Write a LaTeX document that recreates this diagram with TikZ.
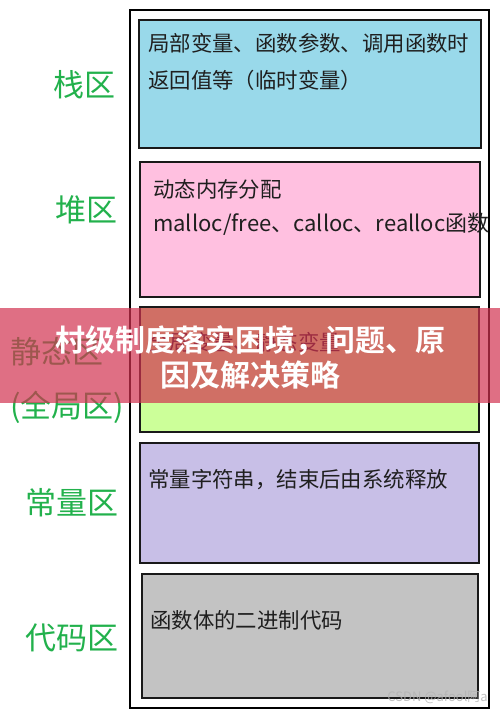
\documentclass[tikz,border=0pt]{standalone}
\usepackage{fontspec}
\setmainfont{Noto Sans CJK SC}
\newfontfamily\cjkbold{Noto Sans CJK SC Bold}
\usepackage{tikz}
\usetikzlibrary{positioning}

\definecolor{stackblue}{RGB}{153,217,234}
\definecolor{heappink}{RGB}{255,192,224}
\definecolor{staticgreen}{RGB}{204,255,153}
\definecolor{constpurple}{RGB}{200,191,231}
\definecolor{codegray}{RGB}{195,195,195}
\definecolor{labelgreen}{RGB}{34,177,76}
\definecolor{bannerred}{RGB}{210,50,80}

\begin{document}
\begin{tikzpicture}[
        x=1pt, y=-1pt,
        region/.style={draw=black!90, line width=2.2pt, anchor=north west, inner sep=0pt},
        txt/.style={anchor=west, inner sep=0pt, text=black!88, font=\fontsize{21.4}{25}\selectfont},
        lbl/.style={inner sep=0pt, text=labelgreen, font=\fontsize{31}{36}\selectfont}
      ]
      \useasboundingbox (0,0) rectangle (500,712);
      \node[draw=black, line width=1.6pt, anchor=north west, inner sep=0pt,
            minimum width=359, minimum height=698] (mem) at (129,9) {};
      \node[region, fill=stackblue, minimum width=342, minimum height=128] (stack) at (138,19) {};
      \node[region, fill=heappink, minimum width=340, minimum height=135] (heap) at (139,161) {};
      \node[region, fill=staticgreen, minimum width=339, minimum height=125] (static) at (139,306) {};
      \node[region, fill=constpurple, minimum width=339, minimum height=120] (const) at (139,442) {};
      \node[region, fill=codegray, minimum width=336, minimum height=124] (code) at (141,573) {};
      % texts in the boxes
      \node[txt] (stack1) at (148,43) {局部变量、函数参数、调用函数时};
      \node[txt] (stack2) at (148,80) {返回值等（临时变量）};
      \node[txt] (heap1) at (153,189) {动态内存分配};
      \node[txt, font=\fontsize{22}{25}\selectfont] (heap2) at (153,224) {malloc/free、calloc、realloc函数};
      \node[txt] (static1) at (148,342) {全局变量、静态变量};
      \node[txt] (const1) at (148,480) {常量字符串，结束后由系统释放};
      \node[txt] (code1) at (150,620) {函数体的二进制代码};
      % labels on the left
      \node[lbl] (lstack) at (84,85) {栈区};
      \node[lbl] (lheap) at (86,210) {堆区};
      \node[lbl] (lstatic) at (57,352) {静态区};
      \node[lbl] (lglobal) at (67,407) {(全局区)};
      \node[lbl] (lconst) at (72,503) {常量区};
      \node[lbl] (lcode) at (72,638) {代码区};
      % banner
      \fill[bannerred, opacity=0.7] (0,308) rectangle (500,403);
      \node[inner sep=0pt, align=center, text=white,
            font=\cjkbold\fontsize{30}{35}\selectfont] (title) at (250,357)
            {村级制度落实困境，问题、原\\因及解决策略};
      \node[anchor=east, inner sep=0pt, text=black!30, opacity=0.8,
            font=\fontsize{13}{15}\selectfont] (mark) at (488,697) {CSDN @afool阿a};
    \end{tikzpicture}
\end{document}
